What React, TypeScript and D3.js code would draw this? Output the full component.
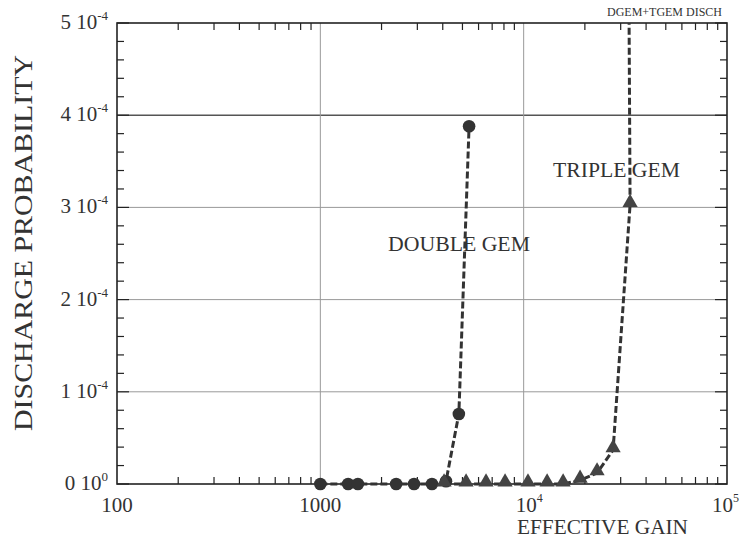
import React from 'react';
import * as d3 from 'd3';

// double GEM (circles)
const doubleGemGain = [1000, 1370, 1530, 2360, 2890, 3540, 4150, 4800, 5390];
const doubleGemProb = [0, 0, 0, 0, 0, 0, 0.03e-4, 0.76e-4, 3.88e-4];

// triple GEM (triangles)
const tripleGemGain = [4060, 5210, 6530, 8100, 10500, 13040, 15630, 18940, 22960, 27530, 33370];
const tripleGemProb = [0, 0, 0, 0, 0, 0, 0, 0.04e-4, 0.12e-4, 0.37e-4, 3.03e-4];

// the triple GEM curve keeps going up to the discharge limit at the top
const dischargeGain = [33370, 33000];
const dischargeProb = [3.03e-4, 5e-4];

const yTickMantissa = ['0', '1', '2', '3', '4', '5'];
const yTickExp = ['0', '-4', '-4', '-4', '-4', '-4'];
const yTickValues = [0, 1e-4, 2e-4, 3e-4, 4e-4, 5e-4];
const xTickValues = [100, 1000, 1e4, 1e5];
const gridY = [1e-4, 2e-4, 3e-4, 4e-4];
const gridX = [1000, 1e4];

const W = 740;
const H = 539;
const m = { left: 117, right: 13, top: 23, bottom: 55 };
const font = '"Liberation Serif", "DejaVu Serif", serif';

const App = () => {
    const x = d3.scaleLog().domain([100, 1e5]).range([m.left, W - m.right]);
    const y = d3.scaleLinear().domain([0, 5e-4]).range([H - m.bottom, m.top]);
    const x0 = m.left, x1 = W - m.right, y0 = H - m.bottom, y1 = m.top;

    // minor log ticks 2..9 per decade
    const minorX: number[] = [];
    for (let d = 100; d < 1e5; d *= 10) {
        for (let k = 2; k <= 9; k++) minorX.push(d * k);
    }
    const minorY = d3.range(0, 26).map(i => i * 0.2e-4).filter((v, i) => i % 5 !== 0);

    const line = d3.line<[number, number]>().x(d => x(d[0])).y(d => y(d[1]));
    const dgPts = doubleGemGain.map((g, i) => [g, doubleGemProb[i]] as [number, number]);
    const tgPts = tripleGemGain.map((g, i) => [g, tripleGemProb[i]] as [number, number]);
    const discPts = dischargeGain.map((g, i) => [g, dischargeProb[i]] as [number, number]);
    const tri = d3.symbol().type(d3.symbolTriangle).size(100)();

    const dash = { stroke: '#333', strokeWidth: 3, strokeDasharray: '7,3', fill: 'none' };

    return (
        <svg width={W} height={H} style={{ position: 'absolute', left: 0, top: 0, background: '#fff' }}
            fontFamily={font}>
            {/* grid */}
            {gridY.map(v => (
                <line key={'gy' + v} x1={x0} x2={x1} y1={y(v)} y2={y(v)}
                    stroke={v === 4e-4 ? '#555' : '#999'} strokeWidth={v === 4e-4 ? 1.6 : 1} />
            ))}
            {gridX.map(v => (
                <line key={'gx' + v} x1={x(v)} x2={x(v)} y1={y0} y2={y1} stroke="#999" strokeWidth={1} />
            ))}

            {/* ticks, inward on all four sides */}
            {minorX.map(v => (
                <g key={'mx' + v} stroke="#222" strokeWidth={1.2}>
                    <line x1={x(v)} x2={x(v)} y1={y0} y2={y0 - 7} />
                    <line x1={x(v)} x2={x(v)} y1={y1} y2={y1 + 7} />
                </g>
            ))}
            {minorY.map(v => (
                <g key={'my' + v} stroke="#222" strokeWidth={1.2}>
                    <line x1={x0} x2={x0 + 7} y1={y(v)} y2={y(v)} />
                    <line x1={x1} x2={x1 - 7} y1={y(v)} y2={y(v)} />
                </g>
            ))}
            {yTickValues.map(v => (
                <g key={'ty' + v} stroke="#222" strokeWidth={1.2}>
                    <line x1={x0} x2={x0 + 12} y1={y(v)} y2={y(v)} />
                    <line x1={x1} x2={x1 - 12} y1={y(v)} y2={y(v)} />
                </g>
            ))}

            {/* frame */}
            <rect x={x0} y={y1} width={x1 - x0} height={y0 - y1} fill="none" stroke="#222" strokeWidth={1.6} />

            {/* y tick labels */}
            {yTickValues.map((v, i) => (
                <text key={'ly' + v} x={x0 - 9} y={y(v) + 6} textAnchor="end" fontSize={21} fill="#333">
                    <tspan>{yTickMantissa[i] + ' 10'}</tspan>
                    <tspan dy={-9} fontSize={13}>{yTickExp[i]}</tspan>
                </text>
            ))}

            {/* x tick labels */}
            {xTickValues.map(v => {
                const e = Math.round(Math.log10(v));
                if (e <= 3) {
                    return <text key={'lx' + v} x={x(v)} y={y0 + 28} textAnchor="middle" fontSize={21} fill="#333">{v}</text>;
                }
                const last = v === 1e5;
                return (
                    <text key={'lx' + v} x={last ? W - 1 : x(v) - 8} y={y0 + 28} fontSize={21} fill="#333"
                        textAnchor={last ? 'end' : 'start'}>
                        <tspan>10</tspan>
                        <tspan dy={-10} fontSize={12}>{e}</tspan>
                    </text>
                );
            })}

            {/* axis titles */}
            <text x={517} y={534} fontSize={20} fill="#333" textLength={171} lengthAdjust="spacingAndGlyphs">
                EFFECTIVE GAIN
            </text>
            <text transform={`translate(32, ${243}) rotate(-90)`} textAnchor="middle" fontSize={25} fill="#333"
                textLength={376} lengthAdjust="spacingAndGlyphs">
                DISCHARGE PROBABILITY
            </text>

            {/* curves */}
            <path d={line(dgPts) || ''} {...dash} />
            <path d={line(tgPts) || ''} {...dash} />
            <path d={line(discPts) || ''} {...dash} />

            {dgPts.map((p, i) => (
                <circle key={'c' + i} cx={x(p[0])} cy={y(p[1])} r={6.3} fill="#333" />
            ))}
            {tgPts.map((p, i) => (
                <path key={'t' + i} d={tri || ''} transform={`translate(${x(p[0])},${y(p[1]) - 2})`} fill="#444" />
            ))}

            {/* annotations */}
            <text x={388} y={251} fontSize={22} fill="#333" textLength={142} lengthAdjust="spacingAndGlyphs">DOUBLE GEM</text>
            <text x={553} y={177} fontSize={22} fill="#333" textLength={127} lengthAdjust="spacingAndGlyphs">TRIPLE GEM</text>
            <text x={607} y={16} fontSize={12} fill="#333" textLength={115} lengthAdjust="spacingAndGlyphs">DGEM+TGEM DISCH</text>
        </svg>
    );
};

export default App;
